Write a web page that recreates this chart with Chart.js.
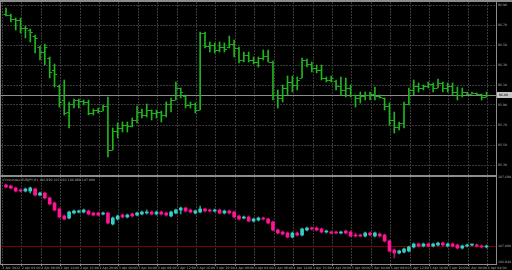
<!DOCTYPE html>
<html>
<head>
<meta charset="utf-8">
<script src="https://cdn.jsdelivr.net/npm/chart.js@4"></script>
<style>
  html, body { margin: 0; padding: 0; background: #000; overflow: hidden; }
  canvas { display: block; }
</style>
</head>
<body>
<canvas id="chart" width="512" height="270"></canvas>
<script>
// main pane, EURJPY H1 bars
const open = [86.81,86.80,86.76,86.75,86.67,86.65,86.59,86.48,86.43,86.37,
  86.25,86.09,85.95,85.83,85.91,85.95,85.94,85.93,85.82,85.85,
  85.84,85.89,85.45,85.64,85.67,85.70,85.69,85.75,85.83,85.80,
  85.85,85.82,85.83,85.80,85.91,85.95,86.07,85.99,85.90,85.91,
  85.85,86.62,86.49,86.50,86.45,86.48,86.48,86.51,86.47,86.35,
  86.40,86.35,86.33,86.37,86.39,86.33,86.00,85.97,86.07,86.13,
  86.10,86.17,86.35,86.31,86.27,86.25,86.17,86.15,86.14,86.09,
  86.05,86.07,86.00,85.97,85.99,86.00,86.01,85.99,85.97,85.89,
  85.75,85.68,85.72,85.91,86.05,86.09,86.07,86.09,86.11,86.07,
  86.12,86.07,86.09,86.03,86.00,86.03,86.01,86.02,86.01,85.98]
const high = [86.87,86.81,86.77,86.77,86.69,86.66,86.60,86.49,86.51,86.38,
  86.31,86.10,86.15,85.93,85.96,85.96,85.95,85.95,85.86,85.87,
  85.90,85.98,85.67,85.72,85.73,85.73,85.77,85.89,85.86,85.91,
  85.85,85.85,85.84,85.93,85.97,86.13,86.07,86.00,85.93,85.92,
  86.63,86.63,86.53,86.52,86.53,86.52,86.59,86.55,86.48,86.43,
  86.43,86.38,86.38,86.45,86.45,86.34,86.05,86.10,86.19,86.19,
  86.18,86.37,86.36,86.33,86.30,86.30,86.18,86.19,86.15,86.18,
  86.17,86.10,86.00,86.03,86.03,86.03,86.08,86.00,85.97,85.92,
  85.83,85.73,85.93,86.07,86.15,86.12,86.10,86.13,86.12,86.16,
  86.13,86.12,86.12,86.08,86.07,86.03,86.03,86.02,86.01,86.03]
const low = [86.79,86.73,86.65,86.62,86.57,86.53,86.42,86.35,86.30,86.17,
  86.08,85.88,85.80,85.67,85.87,85.87,85.90,85.80,85.80,85.82,
  85.84,85.38,85.45,85.57,85.63,85.63,85.68,85.72,85.77,85.78,
  85.75,85.77,85.73,85.78,85.83,85.95,85.97,85.87,85.87,85.82,
  85.85,86.47,86.43,86.42,86.43,86.43,86.47,86.38,86.32,86.33,
  86.33,86.31,86.28,86.35,86.33,85.95,85.87,85.93,86.00,86.03,
  86.05,86.17,86.28,86.23,86.22,86.15,86.13,86.13,86.05,86.00,
  85.98,85.98,85.88,85.92,85.95,85.95,85.95,85.97,85.85,85.70,
  85.62,85.65,85.67,85.90,86.00,86.03,86.05,86.07,86.03,86.07,
  86.03,86.03,86.00,85.95,85.98,86.00,86.01,86.00,85.95,85.98]
const close = [86.80,86.76,86.75,86.67,86.67,86.63,86.57,86.43,86.48,86.23,
  86.21,85.93,85.82,85.91,85.95,85.94,85.93,85.82,85.85,85.84,
  85.89,85.45,85.64,85.67,85.70,85.69,85.75,85.83,85.80,85.85,
  85.82,85.83,85.80,85.91,85.95,86.07,86.03,85.90,85.91,85.85,
  86.62,86.49,86.50,86.45,86.48,86.46,86.51,86.47,86.35,86.40,
  86.35,86.33,86.37,86.39,86.33,86.00,85.97,86.07,86.13,86.10,
  86.15,86.35,86.31,86.27,86.25,86.17,86.15,86.17,86.09,86.05,
  86.07,86.00,85.97,85.99,86.00,86.01,85.99,85.98,85.89,85.75,
  85.68,85.72,85.91,86.05,86.09,86.07,86.09,86.11,86.07,86.12,
  86.07,86.09,86.03,86.00,86.03,86.01,86.02,86.01,85.98,86.00]

// indicator pane candles
const indOpen = [107.61,107.60,107.58,107.56,107.55,107.55,107.57,107.51,107.53,107.48,
  107.43,107.37,107.30,107.28,107.33,107.34,107.34,107.35,107.33,107.33,
  107.32,107.33,107.22,107.27,107.31,107.29,107.32,107.31,107.32,107.33,
  107.34,107.32,107.34,107.33,107.30,107.33,107.36,107.38,107.36,107.33,
  107.34,107.37,107.36,107.35,107.36,107.33,107.35,107.34,107.30,107.28,
  107.29,107.25,107.26,107.28,107.27,107.24,107.16,107.14,107.13,107.09,
  107.13,107.11,107.16,107.18,107.18,107.17,107.14,107.14,107.14,107.13,
  107.15,107.14,107.11,107.11,107.10,107.13,107.10,107.12,107.11,107.05,
  106.96,106.93,106.94,106.95,106.99,107.02,107.00,107.02,107.00,107.01,
  107.03,107.00,107.02,107.01,106.98,107.00,107.01,107.01,107.00,106.99]
const indClose = [107.59,107.58,107.55,107.55,107.57,107.58,107.51,107.53,107.48,107.42,
  107.36,107.29,107.27,107.34,107.35,107.35,107.36,107.32,107.31,107.31,
  107.33,107.23,107.28,107.30,107.29,107.31,107.30,107.33,107.34,107.34,
  107.32,107.34,107.32,107.31,107.34,107.36,107.38,107.35,107.34,107.35,
  107.37,107.35,107.35,107.36,107.33,107.35,107.33,107.29,107.27,107.29,
  107.25,107.27,107.28,107.27,107.23,107.16,107.13,107.12,107.09,107.13,
  107.11,107.17,107.18,107.17,107.16,107.14,107.15,107.13,107.13,107.14,
  107.13,107.10,107.10,107.10,107.13,107.11,107.13,107.10,107.05,106.95,
  106.93,106.95,106.97,106.99,107.02,107.00,107.02,107.00,107.02,107.03,
  107.01,107.02,107.00,106.98,107.00,107.01,107.01,107.00,106.99,107.00]
const indHigh = [107.62,107.61,107.59,107.57,107.58,107.59,107.58,107.54,107.54,107.49,
  107.44,107.38,107.31,107.35,107.36,107.36,107.37,107.36,107.34,107.34,
  107.34,107.34,107.29,107.31,107.32,107.32,107.33,107.34,107.35,107.36,
  107.35,107.35,107.35,107.34,107.35,107.37,107.39,107.39,107.37,107.36,
  107.40,107.38,107.37,107.37,107.37,107.36,107.36,107.35,107.31,107.30,
  107.30,107.28,107.29,107.29,107.28,107.25,107.17,107.15,107.14,107.14,
  107.14,107.18,107.19,107.19,107.19,107.18,107.16,107.15,107.15,107.15,
  107.16,107.15,107.13,107.12,107.14,107.14,107.14,107.13,107.12,107.06,
  106.97,106.96,106.98,107.00,107.03,107.03,107.03,107.03,107.03,107.04,
  107.04,107.03,107.03,107.02,107.01,107.02,107.02,107.02,107.01,107.01]
const indLow = [107.58,107.57,107.54,107.54,107.54,107.53,107.50,107.50,107.47,107.41,
  107.35,107.28,107.26,107.27,107.32,107.33,107.33,107.31,107.30,107.30,
  107.31,107.22,107.21,107.26,107.28,107.28,107.29,107.30,107.31,107.32,
  107.31,107.31,107.31,107.30,107.29,107.32,107.32,107.34,107.33,107.32,
  107.33,107.34,107.34,107.34,107.32,107.32,107.32,107.28,107.26,107.27,
  107.24,107.24,107.25,107.26,107.22,107.15,107.12,107.11,107.08,107.08,
  107.10,107.10,107.15,107.16,107.15,107.13,107.13,107.12,107.12,107.12,
  107.12,107.09,107.09,107.09,107.09,107.10,107.09,107.09,107.04,106.94,
  106.88,106.92,106.93,106.94,106.98,106.99,106.99,106.99,106.99,107.00,
  107.00,106.99,106.99,106.97,106.97,106.99,107.00,106.99,106.98,106.98]
const indLevel = 107.00

// axis labels
const priceTicks = [86.90,86.80,86.70,86.60,86.50,86.40,86.30,86.20,86.10,86.00,
  85.90,85.80,85.70,85.60,85.50,85.40,85.30]
const indTicks = [107.69, 107.00, 106.84]
const timeLabels = ['2 Apr 2012','2 Apr 04:00','2 Apr 08:00','2 Apr 12:00','2 Apr 16:00','2 Apr 20:00',
  '3 Apr 00:00','3 Apr 04:00','3 Apr 08:00','3 Apr 12:00','3 Apr 16:00','3 Apr 20:00',
  '4 Apr 00:00','4 Apr 04:00','4 Apr 08:00','4 Apr 12:00','4 Apr 16:00','4 Apr 20:00',
  '5 Apr 00:00','5 Apr 04:00','5 Apr 08:00','5 Apr 12:00','5 Apr 16:00','5 Apr 20:00',
  '6 Apr 00:00','6 Apr 04:00']

const green = '#1fb51f'
const pink = '#ff1493'
const cyan = '#36cfc6'
const gridColor = '#3a3a3a'
const textColor = '#a8a8a8'
const tiny = { size: 3.2, family: 'DejaVu Sans' }

const idx = open.map((_, i) => i)
const candleColor = idx.map(i => indClose[i] >= indOpen[i] ? cyan : pink)
const wickColor = idx.map(i => indClose[i] >= indOpen[i] ? '#2a9e98' : '#b8106c')

const panes = {
  id: 'panes',
  beforeDraw(chart) {
    const c = chart.ctx
    c.save()
    c.fillStyle = '#000'
    c.fillRect(0, 0, chart.width, chart.height)
    c.restore()
  },
  beforeDatasetsDraw(chart) {
    const { ctx: c, chartArea: a, scales: { y, ind } } = chart
    c.save()
    c.lineWidth = 1
    // bid line
    const by = Math.round(y.getPixelForValue(close[close.length - 1])) + 0.5
    c.strokeStyle = '#8c8c8c'
    c.beginPath(); c.moveTo(a.left, by); c.lineTo(a.right, by); c.stroke()
    // indicator level
    const ly = Math.round(ind.getPixelForValue(indLevel)) + 0.5
    c.strokeStyle = '#7a0000'
    c.beginPath(); c.moveTo(a.left, ly); c.lineTo(a.right, ly); c.stroke()
    c.restore()
  },
  afterDatasetsDraw(chart) {
    // open / close ticks of the OHLC bars
    const { ctx: c, scales: { x, y } } = chart
    c.save()
    c.fillStyle = green
    idx.forEach(i => {
      const px = x.getPixelForValue(i)
      c.fillRect(px - 2.5, Math.round(y.getPixelForValue(open[i])), 2, 1)
      c.fillRect(px + 0.5, Math.round(y.getPixelForValue(close[i])), 2, 1)
    })
    c.restore()
  },
  afterDraw(chart) {
    const { ctx: c, chartArea: a, scales: { y, ind } } = chart
    c.save()
    c.fillStyle = '#8c8c8c'
    c.fillRect(0, 0, chart.width, 2)
    c.fillRect(0, 0, 1, a.bottom + 1)
    c.fillRect(a.right, 0, 1, a.bottom + 1)
    c.fillRect(0, Math.round(y.bottom), a.right, 2)
    c.fillRect(0, Math.round(a.bottom), a.right + 1, 1)

    // current price box
    const last = close[close.length - 1]
    const py = Math.round(y.getPixelForValue(last))
    c.fillStyle = '#c4c4c4'
    c.fillRect(a.right + 1, py - 3, chart.width - a.right - 1, 6)
    c.fillStyle = '#000'
    c.font = `${tiny.size}px ${tiny.family}`
    c.textBaseline = 'middle'
    c.fillText(last.toFixed(2), a.right + 3, py)

    // indicator title
    const n = indOpen.length - 1
    c.fillStyle = textColor
    c.fillText('CrossIndex EURJPY,H1 ' + [indOpen[n], indHigh[n], indLow[n], indClose[n]].map(v => v.toFixed(3)).join(' '),
      3, Math.round(ind.top) + 5)
    c.restore()
  }
}

new Chart(document.getElementById('chart'), {
  type: 'bar',
  data: {
    datasets: [
      {
        yAxisID: 'y',
        data: idx.map(i => ({ x: i, y: [low[i], high[i]] })),
        backgroundColor: green,
        barThickness: 1,
        grouped: false,
      },
      {
        yAxisID: 'ind',
        data: idx.map(i => ({ x: i, y: [indOpen[i], indClose[i]] })),
        backgroundColor: candleColor,
        barThickness: 3,
        minBarLength: 1,
        grouped: false,
      },
      {
        yAxisID: 'ind',
        data: idx.map(i => ({ x: i, y: [indLow[i], indHigh[i]] })),
        backgroundColor: wickColor,
        barThickness: 1,
        grouped: false,
      },
    ],
  },
  options: {
    responsive: false,
    animation: false,
    devicePixelRatio: 1,
    layout: { padding: { top: 2, left: 1, right: 0, bottom: 0 } },
    plugins: { legend: false, tooltip: false },
    scales: {
      x: {
        type: 'linear',
        position: 'bottom',
        offset: false,
        min: -1.03,
        max: 100.95,
        afterBuildTicks: s => { s.ticks = timeLabels.map((t, k) => ({ value: 4 * k - 0.75 })) },
        afterFit: s => { s.height = 6; s.paddingLeft = 0; s.paddingRight = 0 },
        grid: { offset: false, color: gridColor, tickColor: '#8c8c8c', tickLength: 2, tickBorderDash: [0, 0] },
        border: { display: false, dash: [2, 1] },
        ticks: {
          autoSkip: false, maxRotation: 0, align: 'start', padding: 0,
          color: textColor, font: tiny,
          callback: (v, i) => timeLabels[i],
        },
      },
      y: {
        type: 'linear',
        position: 'right',
        stack: 'panes',
        stackWeight: 173,
        weight: 0,
        min: 85.20,
        max: 86.93,
        afterBuildTicks: s => { s.ticks = priceTicks.map(v => ({ value: v })) },
        afterFit: s => { s.width = 16; s.paddingTop = 0; s.paddingBottom = 0 },
        grid: { color: gridColor, drawTicks: false },
        border: { display: false, dash: [2, 1] },
        ticks: { padding: 2, color: textColor, font: tiny, callback: (v, i) => priceTicks[i].toFixed(2) },
      },
      ind: {
        type: 'linear',
        position: 'right',
        stack: 'panes',
        stackWeight: 89,
        weight: 1,
        min: 106.82,
        max: 107.71,
        afterBuildTicks: s => { s.ticks = indTicks.map(v => ({ value: v })) },
        afterFit: s => { s.width = 16; s.paddingTop = 0; s.paddingBottom = 0 },
        grid: { drawOnChartArea: false, drawTicks: false },
        border: { display: false },
        ticks: { padding: 2, color: textColor, font: tiny, callback: (v, i) => indTicks[i].toFixed(3) },
      },
    },
  },
  plugins: [panes],
})
</script>
</body>
</html>
